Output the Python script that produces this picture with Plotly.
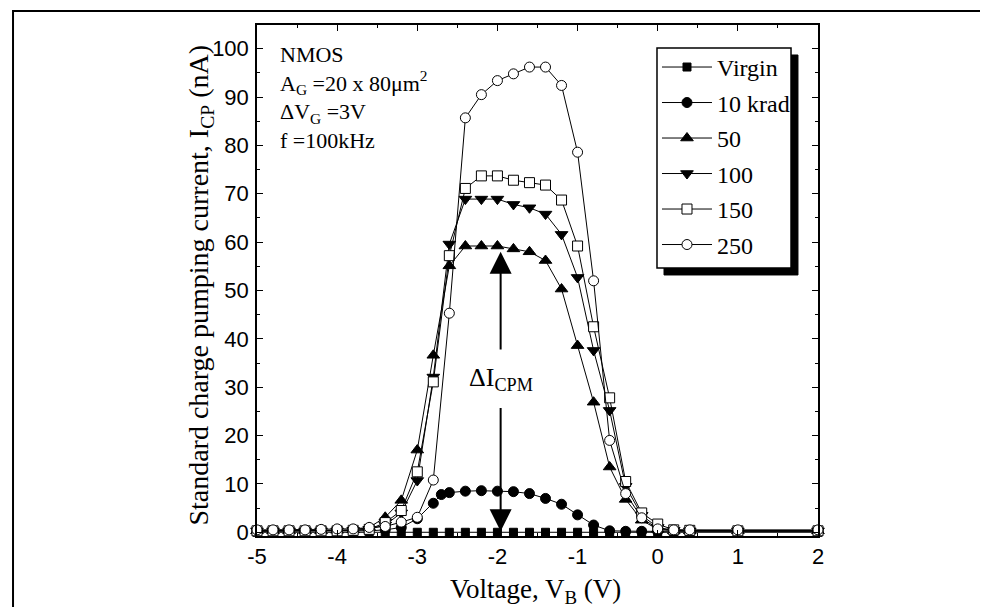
import plotly.graph_objects as go

# ---------------- data ----------------
voltage = [-5.0, -4.8, -4.6, -4.4, -4.2, -4.0, -3.8, -3.6, -3.4, -3.2, -3.0, -2.8, -2.6,
           -2.4, -2.2, -2.0, -1.8, -1.6, -1.4, -1.2, -1.0, -0.8, -0.6, -0.4, -0.2,
           0.0, 0.2, 0.4, 1.0, 2.0]

voltage_10krad = [-5.0, -4.8, -4.6, -4.4, -4.2, -4.0, -3.8, -3.6, -3.4, -3.2, -3.0, -2.8, -2.7,
                  -2.6, -2.4, -2.2, -2.0, -1.8, -1.6, -1.4, -1.2, -1.0, -0.8, -0.6, -0.4,
                  -0.2, 0.0, 0.2, 0.4, 1.0, 2.0]

icp_virgin = [0.0, 0.0, 0.0, 0.0, 0.0, 0.0, 0.0, 0.0, 0.0, 0.0, 0.0, 0.0, 0.0,
              0.0, 0.0, 0.0, 0.0, 0.0, 0.0, 0.0, 0.0, 0.0, 0.0, 0.0, 0.0,
              0.0, 0.0, 0.0, 0.0, 0.0]

icp_10krad = [0.2, 0.2, 0.2, 0.2, 0.2, 0.2, 0.2, 0.3, 0.5, 1.0, 2.8, 6.0, 7.8,
              8.2, 8.5, 8.6, 8.5, 8.4, 8.0, 7.0, 5.8, 3.6, 1.5, 0.3, 0.2,
              0.2, 0.2, 0.2, 0.2, 0.2, 0.2]

icp_50 = [0.3, 0.3, 0.3, 0.3, 0.3, 0.4, 0.5, 1.0, 3.1, 6.6, 17.0, 36.6, 55.1,
          59.2, 59.2, 59.2, 58.6, 58.0, 56.2, 50.3, 38.6, 26.9, 13.5, 6.8, 2.5,
          0.6, 0.3, 0.3, 0.3, 0.3]

icp_100 = [0.3, 0.3, 0.3, 0.3, 0.3, 0.3, 0.4, 0.6, 1.5, 4.0, 10.7, 32.1, 59.6,
           68.9, 68.9, 68.9, 67.8, 67.1, 65.8, 61.6, 52.7, 37.6, 25.2, 9.5, 3.5,
           1.0, 0.4, 0.3, 0.3, 0.3]

icp_150 = [0.3, 0.3, 0.3, 0.3, 0.3, 0.3, 0.4, 0.6, 2.0, 4.5, 12.5, 31.1, 57.2,
           71.1, 73.7, 73.7, 72.8, 72.3, 71.8, 68.7, 59.2, 42.5, 27.8, 10.5, 4.0,
           1.7, 0.5, 0.4, 0.3, 0.3]

icp_250 = [0.5, 0.5, 0.5, 0.5, 0.6, 0.7, 0.7, 1.0, 1.2, 2.1, 3.1, 10.8, 45.3,
           85.7, 90.5, 93.4, 94.8, 96.2, 96.2, 92.4, 78.6, 52.0, 19.0, 8.0, 3.0,
           0.7, 0.5, 0.5, 0.5, 0.5]

series_names = ["Virgin", "10 krad", "50", "100", "150", "250"]
x_ticks = [-5, -4, -3, -2, -1, 0, 1, 2]
y_ticks = [0, 10, 20, 30, 40, 50, 60, 70, 80, 90, 100]
info_lines = ["NMOS", "A<sub>G</sub> =20 x 80μm<sup>2</sup>", "ΔV<sub>G</sub> =3V", "f =100kHz"]

# ---------------- styles ----------------
serif = "Liberation Serif, Times New Roman, serif"
sans = "Liberation Sans Narrow, Arial Narrow, Liberation Sans, Arial, sans-serif"

styles = [
    dict(symbol="square", color="black", size=8),
    dict(symbol="circle", color="black", size=10),
    dict(symbol="triangle-up", color="black", size=11),
    dict(symbol="triangle-down", color="black", size=11),
    dict(symbol="square", color="white", size=10),
    dict(symbol="circle", color="white", size=10),
]
xs = [voltage, voltage_10krad, voltage, voltage, voltage, voltage]
ys = [icp_virgin, icp_10krad, icp_50, icp_100, icp_150, icp_250]

fig = go.Figure()
for name, x, y, st in zip(series_names, xs, ys, styles):
    fig.add_trace(go.Scatter(
        x=x, y=y, name=name, mode="lines+markers",
        line=dict(color="black", width=1),
        marker=dict(symbol=st["symbol"], color=st["color"], size=st["size"],
                    line=dict(color="black", width=1)),
        cliponaxis=False,
        legendgroup=name,
    ))

axis_common = dict(
    showline=True, linecolor="black", linewidth=1.5, mirror="allticks",
    ticks="inside", tickcolor="black", tickwidth=1.2, ticklen=6,
    showgrid=False, zeroline=False,
    tickfont=dict(family=sans, size=22, color="black"),
    automargin=False,
)

fig.update_xaxes(
    range=[-5, 2], tickvals=x_ticks, ticktext=[str(v) for v in x_ticks],
    minor=dict(ticks="inside", dtick=0.5, ticklen=3, tickcolor="black", tickwidth=1),
    ticklabelstandoff=0,
    **axis_common,
)
fig.update_yaxes(
    range=[-0.77, 104.9], tickvals=y_ticks, ticktext=[str(v) for v in y_ticks],
    minor=dict(ticks="inside", dtick=5, ticklen=3, tickcolor="black", tickwidth=1),
    ticklabelstandoff=2,
    **axis_common,
)

# axis titles as annotations for precise placement
fig.add_annotation(
    xref="paper", yref="paper", x=0.497, y=-0.1076, xanchor="center", yanchor="middle",
    showarrow=False, text="Voltage, V<sub>B</sub> (V)",
    font=dict(family=serif, size=27, color="black"),
)
fig.add_annotation(
    xref="paper", yref="paper", x=-0.0998, y=0.49, xanchor="center", yanchor="middle",
    showarrow=False, textangle=-90,
    text="Standard charge pumping current, I<sub>CP</sub> (nA)",
    font=dict(family=serif, size=28, color="black"),
)

# legend box with shadow (drawn as shapes), legend itself transparent
fig.add_shape(type="rect", xref="paper", yref="paper", x0=0.7255, x1=0.9643, y0=0.5108, y1=0.9413,
              fillcolor="black", line=dict(color="black", width=1), layer="above")
fig.add_shape(type="rect", xref="paper", yref="paper", x0=0.7130, x1=0.9519, y0=0.5245, y1=0.955,
              fillcolor="white", line=dict(color="black", width=1.5), layer="above")
# outer frame
fig.add_shape(type="rect", xref="paper", yref="paper", x0=-0.4349, x1=1.3084, y0=-0.1507, y1=1.0274,
              fillcolor="rgba(0,0,0,0)", line=dict(color="black", width=2), layer="above")

fig.update_layout(
    width=988, height=607,
    margin=dict(l=249, r=178, t=17, b=79),
    paper_bgcolor="white", plot_bgcolor="white",
    showlegend=True,
    legend=dict(
        x=0.713, y=0.961, xanchor="left", yanchor="top",
        bgcolor="rgba(0,0,0,0)", borderwidth=0,
        font=dict(family=serif, size=24, color="black"),
        tracegroupgap=1.3, itemwidth=50,
    ),
)

# info text block
fig.add_annotation(
    xref="paper", yref="paper", x=0.038, y=0.9712, xanchor="left", yanchor="top",
    align="left", showarrow=False, text="<br>".join(info_lines),
    font=dict(family=serif, size=22, color="black"),
)

# delta I label and arrows
fig.add_annotation(
    x=-1.96, y=31.8, xref="x", yref="y", showarrow=False,
    text="ΔI<sub>CPM</sub>", font=dict(family=serif, size=26, color="black"),
)
fig.add_annotation(
    x=-1.96, y=58.0, ax=-1.96, ay=37.5, xref="x", yref="y", axref="x", ayref="y",
    showarrow=True, arrowhead=2, arrowsize=2.2, arrowwidth=2, arrowcolor="black", text="",
    standoff=0, startstandoff=0,
)
fig.add_annotation(
    x=-1.96, y=0.2, ax=-1.96, ay=26.0, xref="x", yref="y", axref="x", ayref="y",
    showarrow=True, arrowhead=2, arrowsize=2.2, arrowwidth=2, arrowcolor="black", text="",
    standoff=0, startstandoff=0,
)

fig.write_html("out.html")
